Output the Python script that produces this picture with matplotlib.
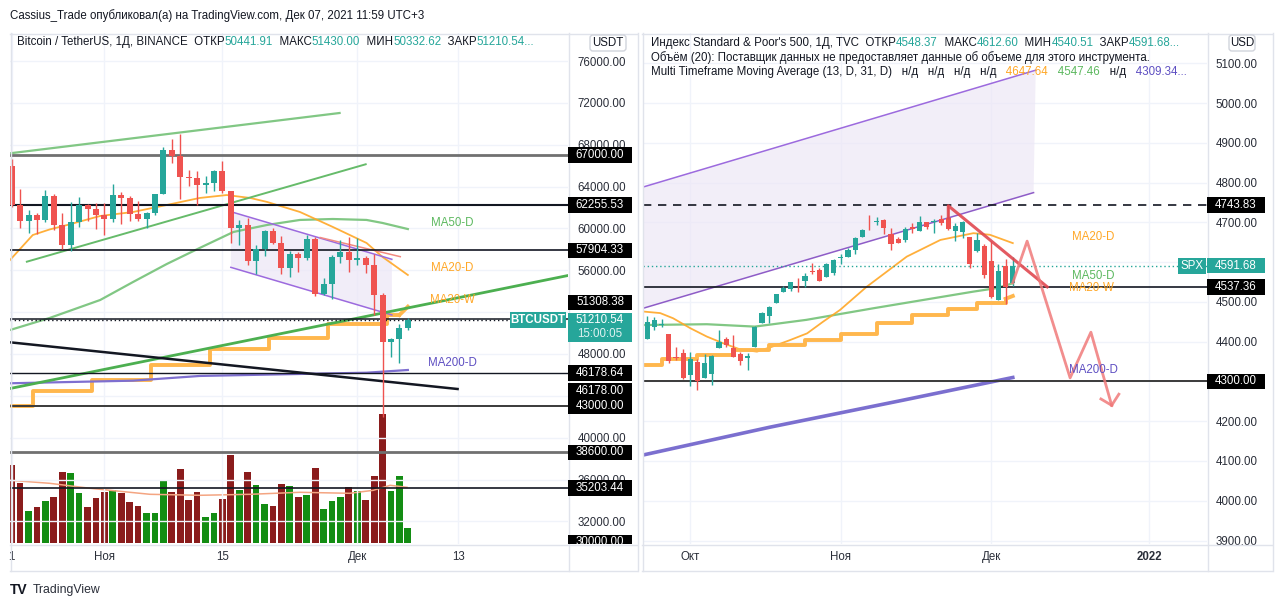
import matplotlib
matplotlib.use('Agg')
import matplotlib.pyplot as plt
from matplotlib.patches import Rectangle, Polygon, FancyBboxPatch
from matplotlib.transforms import IdentityTransform, Bbox
from matplotlib.lines import Line2D
import numpy as np
import pandas as pd

plt.rcParams['font.family'] = ['Liberation Sans', 'DejaVu Sans']

W, H = 1280, 606
FS = 8.3
DARK = '#131722'
TEAL = '#26a69a'
RED = '#ef5350'

# ---------------- BTC / USDT daily (Binance) ----------------
btc_dates = pd.date_range('2021-10-21', '2021-12-07', freq='D')
btc_open = [66001, 62193, 60688, 61286, 60852, 63078, 60328, 58413, 60575, 62253, 61859, 61300,
            60911, 63219, 62896, 61395, 60937, 61470, 63273, 67525, 66947, 64882, 64774, 64122,
            64380, 65519, 63606, 60058, 60345, 56892, 58052, 59707, 58623, 56247, 57541, 57138,
            58960, 53726, 54721, 57274, 57776, 56950, 57184, 56484, 53601, 49152, 49397, 50441.91]
btc_high = [66639, 63732, 61747, 61500, 63710, 63293, 61496, 62499, 62980, 62359, 62405, 62437,
            64270, 63500, 63086, 62595, 61560, 63286, 67789, 68524, 69000, 65600, 65450, 65000,
            65550, 66401, 63617, 60840, 60976, 58372, 59845, 60029, 59266, 57875, 57735, 59398,
            59150, 55280, 57445, 58865, 59176, 59053, 57375, 57600, 53859, 49560, 50891, 51430.00]
btc_low = [62000, 60000, 59562, 59510, 60650, 59817, 58000, 57820, 60174, 60673, 59945, 59405,
           60624, 60382, 60677, 60721, 60050, 61322, 63273, 66222, 62822, 64100, 62278, 63360,
           63576, 63400, 58574, 58373, 56474, 55600, 57353, 58486, 55610, 55317, 55837, 57000,
           53500, 53610, 53256, 56666, 55875, 56458, 55777, 51680, 42000, 47727, 47100, 50332.62]
btc_close = [62193, 60688, 61286, 60852, 63078, 60328, 58413, 60575, 62253, 61859, 61300, 60911,
             63219, 62896, 61395, 60937, 61470, 63273, 67525, 66947, 64882, 64774, 64122, 64380,
             65519, 63606, 60058, 60345, 56892, 58052, 59707, 58623, 56247, 57541, 57138, 58960,
             53726, 54721, 57274, 57776, 56950, 57184, 56480, 53601, 49152, 49397, 50441, 51210.54]
btc_volume_k = [78, 60, 32, 36, 42, 46, 71, 70, 50, 36, 45, 51, 53, 50, 41, 37, 30, 30, 62, 51,
                74, 43, 51, 26, 30, 44, 88, 53, 71, 58, 39, 37, 59, 57, 46, 48, 75, 34, 42, 46,
                56, 52, 43, 67, 129, 52, 67, 15]
btc_volma_x = [-0.2, 4.5, 9.3, 16.4, 22.3, 28.3, 34.2, 40.1, 42.9, 44.9, 46.9]
btc_volma = [63, 60, 55, 49, 48, 49, 51, 50, 53, 58, 56]

btc_ma20d_x = [-0.2, 2.5, 4.5, 6.6, 10.5, 14.4, 18.4, 22.3, 25.5, 28.3, 30.3, 34.2, 38.1, 42.1, 44.0, 47.0]
btc_ma20d = [56980, 59370, 59900, 60330, 61190, 61570, 62240, 62910, 63190, 62910, 62530, 61570,
             60140, 58610, 57270, 55550]
btc_ma50d_x = [-0.2, 4.5, 10.5, 14.4, 18.4, 22.3, 26.3, 30.3, 34.2, 38.1, 42.1, 44.0, 47.0]
btc_ma50d = [50290, 51440, 53160, 54880, 56600, 58130, 59660, 60330, 60810, 60900, 60810, 60520, 59940]
btc_ma20w_x = [-0.2, 2.5, 9.5, 16.5, 23.5, 30.5, 37.5, 44.5]
btc_ma20w = [43060, 44460, 45510, 46950, 48450, 49560, 50840, 51730]
btc_ma20w_now = [(46.0, 51730), (47.0, 52520)]
btc_ma200d_x = [-0.2, 14.4, 22.3, 34.2, 42.1, 47.0]
btc_ma200d = [45200, 45450, 45900, 46090, 46210, 46470]

btc_levels = [67000.00, 62255.53, 57904.33, 51308.38, 46178.64, 43000.00, 38600.00, 35203.44]
btc_extra_labels = [46178.00, 30000.00]
btc_yticks = list(range(32000, 76001, 4000))

btc_channel_upper = ([26.0, 45.1], [61600, 57050])
btc_channel_lower = ([26.0, 45.1], [56280, 51730])
btc_line_green_top = ([-0.2, 38.9], [67180, 71030])
btc_line_green_mid = ([1.8, 42.0], [56820, 66130])
btc_line_green_long = ([-0.2, 66.0], [44700, 55500])
btc_line_black = ([-0.2, 52.9], [49116, 44653])
btc_line_pink = ([36.6, 46.1], [59130, 57300])
btc_ma_labels = [('MA50-D', 49.8, 60540), ('MA20-D', 49.8, 56255), ('MA20-W', 49.6, 53130),
                 ('MA200-D', 49.4, 47110)]
btc_xtick_dates = ['2021-10-21', '2021-11-01', '2021-11-15', '2021-12-01', '2021-12-13']
btc_xtick_labels = ['1', 'Ноя', '15', 'Дек', '13']

# ---------------- S&P 500 daily (TVC) ----------------
spx_dates = pd.bdate_range('2021-09-23', '2021-12-06', freq='C', holidays=['2021-11-25'])
spx_open = [4406.75, 4438.04, 4442.12, 4419.54, 4362.41, 4370.67, 4317.16, 4348.84, 4309.87, 4319.57,
            4383.73, 4406.51, 4385.44, 4368.31, 4358.01, 4386.75, 4447.69, 4463.72, 4497.34, 4524.42,
            4532.24, 4546.12, 4553.69, 4578.69, 4580.22, 4562.84, 4572.87, 4610.62, 4613.34, 4630.65,
            4662.93, 4699.26, 4701.48, 4707.25, 4670.26, 4659.39, 4655.24, 4689.30, 4679.42, 4701.50,
            4700.72, 4708.44, 4712.00, 4678.48, 4675.78, 4664.63, 4628.75, 4640.25, 4602.82, 4504.73,
            4589.49, 4548.37]
spx_high = [4465.40, 4463.12, 4457.30, 4419.54, 4385.57, 4382.55, 4375.19, 4355.51, 4369.23, 4365.57,
            4429.97, 4412.02, 4415.88, 4374.89, 4372.87, 4439.73, 4475.82, 4488.75, 4520.40, 4540.87,
            4551.44, 4559.67, 4572.62, 4598.53, 4584.57, 4597.55, 4608.08, 4620.34, 4635.15, 4663.46,
            4683.00, 4718.50, 4714.92, 4708.53, 4684.85, 4664.55, 4688.47, 4697.42, 4714.95, 4701.50,
            4708.80, 4717.75, 4743.83, 4699.39, 4702.87, 4664.63, 4672.95, 4646.02, 4652.94, 4595.46,
            4608.03, 4612.60]
spx_low = [4406.75, 4430.27, 4436.19, 4346.33, 4355.08, 4306.24, 4288.52, 4278.94, 4309.87, 4290.49,
           4383.73, 4386.22, 4360.59, 4342.09, 4329.92, 4386.75, 4447.69, 4447.47, 4496.41, 4524.40,
           4526.89, 4524.00, 4537.36, 4569.17, 4551.66, 4562.84, 4567.59, 4595.06, 4613.34, 4621.19,
           4662.59, 4681.32, 4694.39, 4670.87, 4630.86, 4648.31, 4650.77, 4672.86, 4679.42, 4684.41,
           4672.78, 4694.22, 4682.17, 4652.66, 4659.89, 4585.43, 4625.26, 4560.00, 4510.27, 4504.73,
           4495.12, 4540.51]
spx_close = [4448.98, 4455.48, 4443.11, 4352.63, 4359.46, 4307.54, 4357.04, 4300.46, 4345.72, 4363.55,
             4399.76, 4391.34, 4361.19, 4350.65, 4363.80, 4438.26, 4471.37, 4486.46, 4519.63, 4536.19,
             4549.78, 4544.90, 4566.48, 4574.79, 4551.68, 4596.42, 4605.38, 4613.67, 4630.65, 4660.57,
             4680.06, 4697.53, 4701.70, 4685.25, 4646.71, 4649.27, 4682.85, 4682.80, 4700.90, 4688.67,
             4704.54, 4697.96, 4682.94, 4690.70, 4701.46, 4594.62, 4655.27, 4567.00, 4513.04, 4577.10,
             4538.43, 4591.68]
spx_ma20d_x = [-0.6, 1.8, 3.6, 6.0, 8.3, 10.6, 12.9, 15.3, 17.5, 19.9, 22.3, 24.5, 26.9, 30.6, 36.2,
               40.9, 45.5, 47.8, 51.0]
spx_ma20d = [4476, 4472, 4459, 4434, 4413, 4396, 4381, 4375, 4388, 4404, 4421, 4450, 4480, 4538, 4614,
             4656, 4673, 4669, 4648]
spx_ma50d_x = [-0.6, 8.3, 15.0, 22.2, 31.5, 38.5, 45.5, 48.8, 51.0]
spx_ma50d = [4442, 4444, 4438, 4455, 4484, 4505, 4526, 4535, 4547]
spx_ma20w_x = [-0.6, 2, 7, 12, 17, 22, 27, 32, 37, 42, 46, 50]
spx_ma20w = [4342, 4356, 4367, 4379, 4392, 4404, 4420, 4446, 4467, 4482, 4497, 4508]
spx_ma20w_now = [(50.0, 4508), (51.0, 4515)]
spx_ma200d_x = [-0.6, 17.1, 35.7, 51.0]
spx_ma200d = [4115, 4185, 4253, 4310]
spx_mtf_legend = [4647.64, 4547.46, 4309.34]

spx_levels = [4743.83, 4537.36, 4300.00]
spx_yticks = list(range(3900, 5101, 100))
spx_channel_lower = ([-0.6, 53.9], [4484, 4775])
spx_channel_upper = ([-0.6, 54.2], [4789, 5083])
spx_red_line = ([42.0, 42.0, 55.8], [4711, 4742, 4538])
spx_forecast_x = [51.0, 53.0, 59.0, 61.9, 64.8]
spx_forecast_y = [4548, 4653, 4309, 4424, 4240]
spx_arrow_heads = [(63.3, 4256), (65.8, 4268)]
spx_ma_labels = [('MA20-D', 59.2, 4664), ('MA50-D', 59.2, 4566), ('MA20-W', 58.8, 4534),
                 ('MA200-D', 58.8, 4328)]
spx_xtick_dates = ['2021-10-01', '2021-11-01', '2021-12-01', '2022-01-03']
spx_xtick_labels = ['Окт', 'Ноя', 'Дек', '2022']

# ---------------- figure ----------------
fig = plt.figure(figsize=(W / 100, H / 100), dpi=100)
fig.patch.set_facecolor('white')


def px_axes(x0, y0, x1, y1):
    return fig.add_axes([x0 / W, 1 - y1 / H, (x1 - x0) / W, (y1 - y0) / H])


ax_l = px_axes(10, 33, 568, 544)
ax_v = ax_l.twinx()
ax_r = px_axes(643, 33, 1207, 544)
ax_l.set_zorder(ax_v.get_zorder() + 1)
ax_l.patch.set_visible(False)

ax_l.set_xlim(-0.2, 66.0)
ax_l.set_ylim(29840, 78676)
ax_v.set_ylim(-0.7, 510.3)
ax_v.axis('off')
ax_r.set_xlim(-0.6, 78.1)
ax_r.set_ylim(3891.2, 5176.5)

ID = IdentityTransform()
BOX_H = 15.5
STACK_UP = 17.0   # 51308.38 label pushed above the live price label


def candles(ax, o, h, l, c, width, min_body):
    o, h, l, c = map(np.asarray, (o, h, l, c))
    x = np.arange(len(o))
    col = np.where(c >= o, TEAL, RED)
    ax.vlines(x, l, h, colors=col, lw=1, zorder=5)
    body = np.maximum(np.abs(c - o), min_body)
    ax.bar(x, body, bottom=np.minimum(o, c), width=width, color=col, lw=0, zorder=6)


def ydisp(ax, price):
    return ax.transData.transform((0, price))[1]


def box_shift(v):
    return -STACK_UP if abs(v - 51308.38) < 0.01 else 0


left_boxes = [(v, box_shift(v)) for v in btc_levels] + [(btc_extra_labels[0], 18)]
right_boxes = [(v, 0) for v in spx_levels] + [(spx_close[-1], 0)]


def covered(ax, boxes, tick, extra=()):
    yt = ydisp(ax, tick)
    for v, dy in boxes:
        yc = ydisp(ax, v) - dy
        if abs(yt - yc) <= BOX_H / 2:
            return True
    for (lo, hi) in extra:
        if lo <= yt <= hi:
            return True
    return False


teal_l = ydisp(ax_l, btc_close[-1])
for ax, yt, boxes, extra in ((ax_l, btc_yticks, left_boxes, [(teal_l - 22, teal_l + 10)]),
                             (ax_r, spx_yticks, right_boxes, [])):
    ax.set_yticks(yt)
    ax.set_yticklabels(['' if covered(ax, boxes, v, extra) else f'{v:.2f}' for v in yt])
    ax.yaxis.tick_right()
    ax.tick_params(axis='both', length=0, labelsize=FS, labelcolor='#2a2e39')
    ax.grid(True, color='#f0f3fa', lw=1)
    ax.set_axisbelow(True)
    for s in ax.spines.values():
        s.set_visible(False)
ax_l.tick_params(axis='y', pad=7)
ax_r.tick_params(axis='y', pad=6)
ax_l.tick_params(axis='x', pad=5)
ax_r.tick_params(axis='x', pad=5)

# x ticks
btc_xt = [(pd.Timestamp(d) - btc_dates[0]).days for d in btc_xtick_dates]
ax_l.set_xticks(btc_xt)
ax_l.set_xticklabels(btc_xtick_labels)
future = pd.bdate_range(spx_dates[-1] + pd.Timedelta(days=1), '2022-01-03', freq='C',
                        holidays=['2021-12-24'])
all_spx = spx_dates.append(future)
spx_xt = [all_spx.get_loc(pd.Timestamp(d)) for d in spx_xtick_dates]
ax_r.set_xticks(spx_xt)
ax_r.set_xticklabels(spx_xtick_labels)
ax_r.get_xticklabels()[-1].set_fontweight('bold')

# ---------------- left panel content ----------------
ax_l.add_patch(Polygon(list(zip(btc_channel_upper[0], btc_channel_upper[1])) +
                       list(zip(btc_channel_lower[0][::-1], btc_channel_lower[1][::-1])),
                       closed=True, fc='#ede7f6', ec='none', alpha=0.75, zorder=1))
ax_l.plot(*btc_channel_upper, color='#9c6ade', lw=1.1, zorder=4)
ax_l.plot(*btc_channel_lower, color='#9c6ade', lw=1.1, zorder=4)
ax_l.plot(*btc_line_pink, color='#f28b82', lw=1.1, zorder=4)

ax_l.plot(btc_ma50d_x, btc_ma50d, color='#81c784', lw=1.6, zorder=3)
ax_l.plot(btc_ma20d_x, btc_ma20d, color='#ffa726', lw=1.3, alpha=0.9, zorder=3)
ax_l.plot(btc_ma20w_x + [btc_ma20w_now[0][0]], btc_ma20w + [btc_ma20w[-1]], drawstyle='steps-post',
          color='#ffb74d', lw=2.8, zorder=3)
ax_l.plot(*zip(*btc_ma20w_now), color='#ffb74d', lw=2.8, zorder=3)
ax_l.plot(btc_ma200d_x, btc_ma200d, color='#7e6fd0', lw=1.6, zorder=3)

ax_l.plot(*btc_line_green_top, color='#81c784', lw=1.6, zorder=4)
ax_l.plot(*btc_line_green_mid, color='#66bb6a', lw=1.4, zorder=4)
ax_l.plot(*btc_line_green_long, color='#4caf50', lw=2.0, zorder=4)
ax_l.plot(*btc_line_black, color=DARK, lw=1.8, zorder=4)

btc_level_styles = [('#707070', 2.0), (DARK, 1.5), (DARK, 1.2), (DARK, 1.1), (DARK, 1.0),
                    ('#3a3a3a', 1.4), ('#707070', 2.0), (DARK, 1.2)]
for v, (c, lw) in zip(btc_levels, btc_level_styles):
    ax_l.axhline(v, color=c, lw=lw, zorder=4)
ax_l.axhline(btc_close[-1], color=DARK, lw=1, ls=(0, (1, 2)), zorder=4)

candles(ax_l, btc_open, btc_high, btc_low, btc_close, 0.72, 95)

vcol = np.where(np.asarray(btc_close) >= np.asarray(btc_open), '#138d13', '#8a1c1c')
ax_v.bar(np.arange(len(btc_volume_k)), btc_volume_k, width=0.8, color=vcol, lw=0)
ax_v.plot(btc_volma_x, btc_volma, color='#f4a582', lw=1.1)

lab_cols = {'MA50-D': '#5cb85f', 'MA20-D': '#ffa726', 'MA20-W': '#ffa726', 'MA200-D': '#5e4fc2'}
for s, x, y in btc_ma_labels:
    ax_l.text(x, y, s, color=lab_cols[s], fontsize=FS, ha='left', va='center', zorder=8)

# ---------------- right panel content ----------------
ax_r.add_patch(Polygon(list(zip(spx_channel_upper[0], spx_channel_upper[1])) +
                       list(zip(spx_channel_lower[0][::-1], spx_channel_lower[1][::-1])),
                       closed=True, fc='#ede7f6', ec='none', alpha=0.7, zorder=1))
ax_r.plot(*spx_channel_upper, color='#9c6ade', lw=1.1, zorder=4)
ax_r.plot(*spx_channel_lower, color='#8e5cc7', lw=1.1, zorder=4)

ax_r.plot(spx_ma50d_x, spx_ma50d, color='#81c784', lw=1.6, zorder=3)
ax_r.plot(spx_ma20d_x, spx_ma20d, color='#ffa726', lw=1.3, alpha=0.9, zorder=3)
ax_r.plot(spx_ma20w_x + [spx_ma20w_now[0][0]], spx_ma20w + [spx_ma20w[-1]], drawstyle='steps-post',
          color='#ffb74d', lw=2.8, zorder=3)
ax_r.plot(*zip(*spx_ma20w_now), color='#ffb74d', lw=2.8, zorder=3)
ax_r.plot(spx_ma200d_x, spx_ma200d, color='#7b6fcf', lw=2.6, zorder=3)

ax_r.axhline(spx_levels[0], color=DARK, lw=1.2, ls=(0, (5, 4)), zorder=4)
ax_r.axhline(spx_levels[1], color=DARK, lw=1.2, zorder=4)
ax_r.axhline(spx_levels[2], color='#3a3a3a', lw=1.4, zorder=4)
ax_r.axhline(spx_close[-1], color=TEAL, lw=1, ls=(0, (1, 2)), zorder=4)

candles(ax_r, spx_open, spx_high, spx_low, spx_close, 0.72, 1.5)

ax_r.plot(*spx_red_line, color='#e04850', lw=2.2, alpha=0.9, zorder=7)
ax_r.plot(spx_forecast_x, spx_forecast_y, color='#f07a7a', lw=2.0, alpha=0.85, zorder=7)
for hx, hy in spx_arrow_heads:
    ax_r.plot([hx, spx_forecast_x[-1]], [hy, spx_forecast_y[-1]], color='#f07a7a', lw=2.0,
              alpha=0.85, zorder=7)

for s, x, y in spx_ma_labels:
    ax_r.text(x, y, s, color=lab_cols[s], fontsize=FS, ha='left', va='center', zorder=8)

# ---------------- frames ----------------
BORDER = '#e0e3eb'


def hline_px(x0, x1, y, color=BORDER, lw=1.0, z=30):
    fig.add_artist(Line2D([x0, x1], [H - y, H - y], transform=ID, color=color, lw=lw, zorder=z))


def vline_px(x, y0, y1, color=BORDER, lw=1.0, z=30):
    fig.add_artist(Line2D([x, x], [H - y0, H - y1], transform=ID, color=color, lw=lw, zorder=z))


for (x0, xa, x1) in ((10, 568, 637), (642, 1207, 1272)):
    hline_px(x0, x1, 33.5)
    hline_px(x0, x1, 570.5)
    hline_px(x0, x1, 544.5)
    vline_px(x0 + 0.5, 33, 571)
    vline_px(x1 + 0.5, 33, 571)
    vline_px(xa + 0.5, 33, 571)


def price_box(ax, price, text, x0, x1, fc='black', tc='white', dy=0, h=BOX_H, clip_bottom=None,
              sub=None):
    yd = ydisp(ax, price) - dy
    top = yd + h / 2
    bot = yd - h / 2 - (13.5 if sub is not None else 0)
    rect = Rectangle((x0, bot), x1 - x0, top - bot, transform=ID, fc=fc, ec='none', zorder=40)
    fig.add_artist(rect)
    t = fig.text((x0 + x1) / 2, yd, text, transform=ID, color=tc, fontsize=FS, ha='center',
                 va='center', zorder=41)
    if sub is not None:
        fig.text((x0 + x1) / 2, yd - 13.8, sub, transform=ID, color='#e0f2f1', fontsize=FS,
                 ha='center', va='center', zorder=41)
    if clip_bottom is not None:
        cb = Bbox.from_extents(x0, H - clip_bottom, x1, H)
        rect.set_clip_box(cb)
        t.set_clip_box(cb)
        t.set_clip_on(True)
    return t


# left price boxes
for v in btc_levels:
    price_box(ax_l, v, f'{v:.2f}', 568, 632, dy=box_shift(v))
price_box(ax_l, btc_extra_labels[0], f'{btc_extra_labels[0]:.2f}', 568, 632, dy=18)
price_box(ax_l, btc_extra_labels[1], f'{btc_extra_labels[1]:.2f}', 568, 632, clip_bottom=544)
price_box(ax_l, btc_close[-1], f'{btc_close[-1]:.2f}', 568, 632, fc=TEAL, sub='15:00:05')
fig.add_artist(Rectangle((510, teal_l - 8), 56, 16, transform=ID, fc=TEAL, ec='none', zorder=40))
fig.text(538, teal_l, 'BTCUSDT', transform=ID, color='white', fontsize=FS, fontweight='bold',
         ha='center', va='center', zorder=41)

# right price boxes
for v in spx_levels:
    price_box(ax_r, v, f'{v:.2f}', 1207, 1265)
price_box(ax_r, spx_close[-1], f'{spx_close[-1]:.2f}', 1207, 1265, fc=TEAL)
yd = ydisp(ax_r, spx_close[-1])
fig.add_artist(Rectangle((1178, yd - 8), 28, 16, transform=ID, fc=TEAL, ec='none', zorder=40))
fig.text(1192, yd, 'SPX', transform=ID, color='white', fontsize=FS, ha='center', va='center',
         zorder=41)

# currency boxes
for (x0, x1, s) in ((590, 626, 'USDT'), (1229, 1255, 'USD')):
    fig.add_artist(FancyBboxPatch((x0, H - 51), x1 - x0, 16, boxstyle='round,pad=0,rounding_size=3',
                                  transform=ID, fc='white', ec='#d1d4dc', lw=1, zorder=40))
    fig.text((x0 + x1) / 2, H - 43, s, transform=ID, color=DARK, fontsize=FS, ha='center',
             va='center', zorder=41)

# ---------------- header texts ----------------
renderer = fig.canvas.get_renderer()


def color_text(x, y, pieces, size=FS, weight='normal'):
    for s, c in pieces:
        t = fig.text(x, H - y, s, transform=ID, color=c, fontsize=size, ha='left', va='center',
                     zorder=45, fontweight=weight)
        x += t.get_window_extent(renderer=renderer).width


color_text(10, 16, [('Cassius_Trade опубликовал(а) на TradingView.com, Дек 07, 2021 11:59 UTC+3', DARK)])
color_text(17, 42, [('Bitcoin / TetherUS, 1Д, BINANCE  ОТКР', DARK), (f'{btc_open[-1]:.2f}', TEAL),
                    ('  МАКС', DARK), (f'{btc_high[-1]:.2f}', TEAL),
                    ('  МИН', DARK), (f'{btc_low[-1]:.2f}', TEAL),
                    ('  ЗАКР', DARK), (f'{btc_close[-1]:.2f}...', TEAL)])
color_text(651, 42.7, [("Индекс Standard & Poor's 500, 1Д, TVC  ОТКР", DARK), (f'{spx_open[-1]:.2f}', TEAL),
                       ('  МАКС', DARK), (f'{spx_high[-1]:.2f}', TEAL),
                       ('  МИН', DARK), (f'{spx_low[-1]:.2f}', TEAL),
                       ('  ЗАКР', DARK), (f'{spx_close[-1]:.2f}...', TEAL)])
color_text(651, 57.5, [('Объём (20): Поставщик данных не предоставляет данные об объеме для этого инструмента.', DARK)])
color_text(651, 72, [('Multi Timeframe Moving Average (13, D, 31, D)   н/д   н/д   н/д   н/д', DARK),
                     (f'   {spx_mtf_legend[0]:.2f}', '#ffa726'),
                     (f'   {spx_mtf_legend[1]:.2f}', '#5cb85f'),
                     ('   н/д', DARK),
                     (f'   {spx_mtf_legend[2]:.2f}...', '#5e4fc2')])

# footer logo
color_text(10, 590, [('TV', DARK)], size=10, weight='heavy')
color_text(33, 590, [('TradingView', '#2a2e39')], size=8.8)

fig.savefig('out.png', dpi=100, facecolor='white')
